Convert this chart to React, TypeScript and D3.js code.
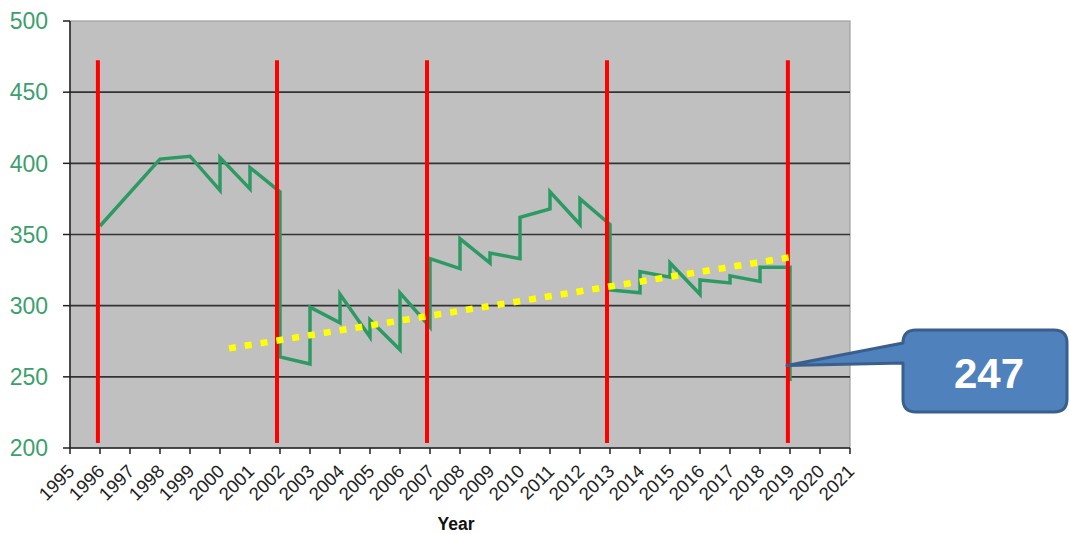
import * as d3 from "d3";

// readings, in year / value units
const YEARS = [
  1996, 1998, 1999, 2000, 2000, 2001, 2001, 2002, 2002, 2003, 2003, 2004, 2004,
  2005, 2005, 2006, 2006, 2007, 2007, 2008, 2008, 2009, 2009, 2010, 2010, 2011,
  2011, 2012, 2012, 2013, 2013, 2014, 2014, 2015, 2015, 2016, 2016, 2017, 2017,
  2018, 2018, 2019, 2019,
];
const VALUES = [
  356, 403, 405, 381, 404, 382, 397, 380, 264, 259, 299, 288, 308, 278, 290,
  269, 309, 285, 333, 326, 347, 330, 337, 333, 362, 368, 380, 357, 375, 357,
  311, 309, 324, 320, 330, 308, 318, 316, 321, 317, 327, 327, 247,
];
const MARKER_YEARS = [1995.93, 2001.9, 2006.9, 2012.9, 2018.93];
const MARKER_RANGE = [203.5, 472.5];
const TREND_X = [2000.3, 2019.0];
const TREND_Y = [270, 334];
const Y_TICKS = [200, 250, 300, 350, 400, 450, 500];
const X_TICKS = d3.range(1995, 2022);
const CALLOUT_LABEL = "247";
const CALLOUT_TARGET = { year: 2018.9, value: 258 };

const W = 1069;
const H = 534;
const M = { left: 70, right: 850, top: 21, bottom: 448 };

export default function App() {
  const x = d3.scaleLinear().domain([1995, 2021]).range([M.left, M.right]);
  const y = d3.scaleLinear().domain([200, 500]).range([M.bottom, M.top]);

  const pts = YEARS.map((yr, i) => [yr, VALUES[i]] as [number, number]);
  const line = d3
    .line<[number, number]>()
    .x((d) => x(d[0]))
    .y((d) => y(d[1]));

  // callout box geometry
  const bx0 = 903, by0 = 330, bx1 = 1067, by1 = 412, r = 13;
  const tipX = x(CALLOUT_TARGET.year);
  const tipY = y(CALLOUT_TARGET.value);
  const callout = [
    `M${bx0 + r},${by0}`,
    `H${bx1 - r}`,
    `Q${bx1},${by0} ${bx1},${by0 + r}`,
    `V${by1 - r}`,
    `Q${bx1},${by1} ${bx1 - r},${by1}`,
    `H${bx0 + r}`,
    `Q${bx0},${by1} ${bx0},${by1 - r}`,
    `V${363}`,
    `L${tipX},${tipY}`,
    `L${bx0},${343}`,
    `Q${bx0},${by0} ${bx0 + r},${by0}`,
    "Z",
  ].join(" ");

  return (
    <svg
      width={W}
      height={H}
      style={{ position: "absolute", left: 0, top: 0, fontFamily: "'Liberation Sans', Arial, sans-serif" }}
    >
      <rect
        x={M.left}
        y={M.top}
        width={M.right - M.left}
        height={M.bottom - M.top}
        fill="#c0c0c0"
        stroke="#a0a0a0"
        strokeWidth={1.2}
      />
      {Y_TICKS.filter((t) => t > 200 && t < 500).map((t) => (
        <line key={t} x1={M.left} x2={M.right} y1={y(t)} y2={y(t)} stroke="#333" strokeWidth={1.6} />
      ))}
      {/* axes */}
      <line x1={M.left} x2={M.left} y1={M.top} y2={M.bottom} stroke="#222" strokeWidth={1.5} />
      <line x1={M.left} x2={M.right} y1={M.bottom} y2={M.bottom} stroke="#222" strokeWidth={1.5} />
      {Y_TICKS.map((t) => (
        <g key={t}>
          <line x1={M.left - 7} x2={M.left} y1={y(t)} y2={y(t)} stroke="#222" strokeWidth={1.5} />
          <text x={48} y={y(t)} dy="0.36em" textAnchor="end" fontSize={23} fill="#3c9f6e">
            {t}
          </text>
        </g>
      ))}
      {X_TICKS.map((t) => (
        <g key={t}>
          <line x1={x(t)} x2={x(t)} y1={M.bottom} y2={M.bottom + 6} stroke="#222" strokeWidth={1.5} />
          <text
            transform={`translate(${x(t) + 1},468) rotate(-45)`}
            textAnchor="end"
            dominantBaseline="central"
            fontSize={18.5}
            fill="#222"
          >
            {t}
          </text>
        </g>
      ))}
      <text x={456} y={530} textAnchor="middle" fontSize={17.5} fontWeight="bold" fill="#111">
        Year
      </text>

      <path d={line(pts) ?? ""} fill="none" stroke="#2e9a63" strokeWidth={3.5} strokeLinejoin="miter" />

      {MARKER_YEARS.map((m) => (
        <line
          key={m}
          x1={x(m)}
          x2={x(m)}
          y1={y(MARKER_RANGE[0])}
          y2={y(MARKER_RANGE[1])}
          stroke="#ff0000"
          strokeWidth={4}
        />
      ))}

      <line
        x1={x(TREND_X[0])}
        x2={x(TREND_X[1])}
        y1={y(TREND_Y[0])}
        y2={y(TREND_Y[1])}
        stroke="#ffff00"
        strokeWidth={6.5}
        strokeDasharray="7,9"
      />

      <path d={callout} fill="#4f81bd" stroke="#3a5f8c" strokeWidth={3} strokeLinejoin="round" />
      <text x={989} y={388} textAnchor="middle" fontSize={42} fontWeight="bold" fill="#fff">
        {CALLOUT_LABEL}
      </text>
    </svg>
  );
}
